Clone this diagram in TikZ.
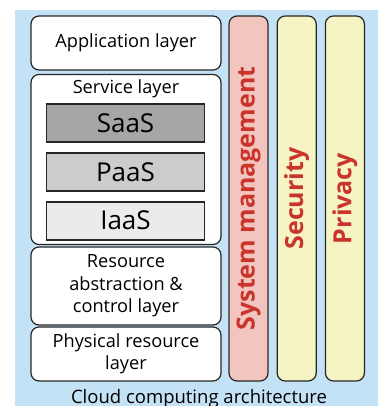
\documentclass[tikz,border=0pt]{standalone}
\usepackage{fontspec}
\setmainfont{Open Sans}
\usetikzlibrary{positioning}

\definecolor{archblue}{HTML}{C4E2F5}
\definecolor{archpink}{HTML}{F2C6BE}
\definecolor{archyellow}{HTML}{F6F3C4}
\definecolor{archred}{HTML}{C9352C}

\tikzset{
  layer/.style = {draw = black!85, fill = white, line width = 1.2pt, rounded corners = 8pt,
    minimum width = 190pt, align = center, inner sep = 0pt, font = \fontsize{18.2}{22.5}\selectfont},
  aas/.style = {draw = black!85, line width = 1.8pt, minimum width = 158pt, minimum height = 38pt,
    inner sep = 0pt, font = \fontsize{26}{28}\selectfont},
  pillar/.style = {draw = black!85, line width = 1.2pt, rounded corners = 8pt,
    minimum width = 39pt, minimum height = 365pt, inner sep = 0pt},
  pillartext/.style = {rotate = 90, text = archred, font = \bfseries\fontsize{25}{27}\selectfont}
}

\begin{document}
\begin{tikzpicture}[x = 1pt, y = -1pt]
\useasboundingbox (0,0) rectangle (380,406);
\fill[archblue] (15,10) rectangle (378,406);

% layers on the left
\node[layer, minimum height = 54pt] (app) at (126,43) {Application layer};
\node[layer, minimum height = 170pt] (service) at (126,159.5) {};
\node[font = \fontsize{18.2}{20}\selectfont, below = 2pt of service.north] (servicetitle) {Service layer};
\node[aas, fill = black!35] (saas) at (125.5,123) {SaaS};
\node[aas, fill = black!20, below = 9pt of saas] (paas) {PaaS};
\node[aas, fill = black!8, below = 9pt of paas] (iaas) {IaaS};
\node[layer, minimum height = 78pt] (resource) at (126,286) {Resource\\abstraction \&\\control layer};
\node[layer, minimum height = 54pt] (physical) at (126,354) {Physical resource\\layer};

% cross-cutting pillars
\node[pillar, fill = archpink] (sysman) at (248.5,198.5) {};
\node[pillar, fill = archyellow, right = 8pt of sysman] (security) {};
\node[pillar, fill = archyellow, right = 8pt of security] (privacy) {};
\node[pillartext] at (sysman) {System management};
\node[pillartext] at (security) {Security};
\node[pillartext] at (privacy) {Privacy};

\node[anchor = base, font = \fontsize{18.5}{20}\selectfont] (caption) at (199,403) {Cloud computing architecture};
\end{tikzpicture}
\end{document}
